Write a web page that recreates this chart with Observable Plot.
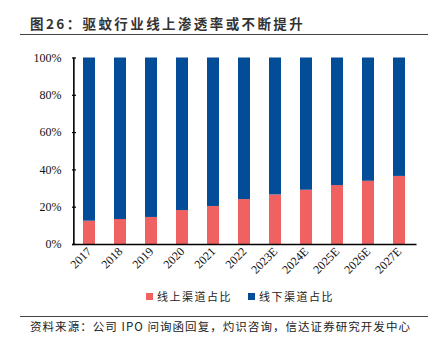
<!DOCTYPE html>
<html><head><meta charset="utf-8">
<script src="https://cdn.jsdelivr.net/npm/d3@7"></script>
<script src="https://cdn.jsdelivr.net/npm/@observablehq/plot@0.6"></script>
<style>
body{margin:0;background:#fff;width:440px;height:352px;position:relative;overflow:hidden;}
#title{position:absolute;left:30px;top:13px;font:bold 13.5px "Noto Sans CJK SC";letter-spacing:2.4px;color:#333;white-space:nowrap;}
.hr{position:absolute;left:20px;width:408px;height:0;border-top:1.5px solid #444;}
#chart{position:absolute;left:0;top:36px;}
#legend{position:absolute;top:288px;left:0;width:440px;display:flex;justify-content:center;gap:16px;font:11px "Noto Sans CJK SC";letter-spacing:1.5px;color:#222;padding-left:40px;box-sizing:border-box;}
#legend span{display:flex;align-items:center;}
#legend i{display:inline-block;width:7px;height:7px;margin-right:4px;}
#caption{position:absolute;left:30px;top:318px;font:11.5px "Noto Sans CJK SC";letter-spacing:1.05px;color:#222;white-space:nowrap;}
</style></head>
<body>
<div id="title">图26：驱蚊行业线上渗透率或不断提升</div>
<div class="hr" style="top:33.5px"></div>
<div id="chart"></div>
<div id="legend"></div>
<div class="hr" style="top:315.5px"></div>
<div id="caption">资料来源：公司 IPO 问询函回复，灼识咨询，信达证券研究开发中心</div>
<script>
const years = ["2017","2018","2019","2020","2021","2022","2023E","2024E","2025E","2026E","2027E"];
const online = [12.5,13.4,14.5,18.2,20.4,24.1,26.6,29.1,31.6,33.9,36.5];
const offline = [87.5,86.6,85.5,81.8,79.6,75.9,73.4,70.9,68.4,66.1,63.5];
const seriesNames = ["线上渠道占比","线下渠道占比"];
const colors = ["#F06262","#034C97"];
const yTicks = [0,20,40,60,80,100];

const rows = [];
years.forEach((y,i)=>{
  rows.push({year:y, series:seriesNames[0], value:online[i]});
  rows.push({year:y, series:seriesNames[1], value:offline[i]});
});

const plot = Plot.plot({
  width:440, height:250,
  marginLeft:72, marginRight:23.5, marginTop:21.5, marginBottom:42,
  style:{fontFamily:"'Liberation Serif', serif", fontSize:"12px", color:"#111", background:"transparent"},
  x:{domain:years, paddingInner:0.6, paddingOuter:0.3, label:null},
  y:{domain:[0,100], label:null},
  color:{domain:seriesNames, range:colors},
  marks:[
    Plot.barY(rows, Plot.stackY({x:"year", y:"value", fill:"series", order:seriesNames})),
    Plot.axisY({ticks:yTicks, tickSize:0, tickPadding:11, tickFormat:d=>d+"%", fontSize:12}),
    Plot.ruleY(yTicks, {y:d=>d, insetRight:340.5, stroke:"#000", strokeWidth:1.2}),
    Plot.axisX({tickSize:0, tickRotate:-45, tickPadding:5, fontSize:12}),
    Plot.ruleX([0], {x:()=>years[0], dx:-15.65, y1:0, y2:100, stroke:"#000", strokeWidth:1.6}),
    Plot.ruleY([0], {stroke:"#000", strokeWidth:1.6})
  ]
});
document.getElementById("chart").appendChild(plot);

const lg = document.getElementById("legend");
seriesNames.forEach((n,i)=>{
  const s = document.createElement("span");
  s.innerHTML = `<i style="background:${colors[i]}"></i>${n}`;
  lg.appendChild(s);
});
</script>
</body></html>
